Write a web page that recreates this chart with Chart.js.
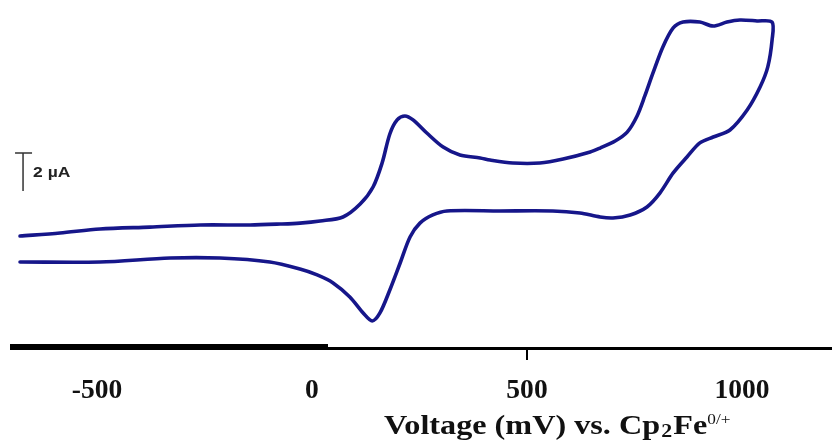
<!DOCTYPE html>
<html>
<head>
<meta charset="utf-8">
<script src="https://cdn.jsdelivr.net/npm/chart.js@4/dist/chart.umd.min.js"></script>
<style>
  html, body { margin: 0; padding: 0; background: #ffffff; }
  #wrap { width: 832px; height: 442px; position: relative; }
</style>
</head>
<body>
<div id="wrap"><canvas id="cv"></canvas></div>
<script>
// Cyclic voltammogram: potential (mV vs. Cp2Fe0/+) and current (µA)
const forwardPotential = [-679, -586, -493, -377, -260, -144, -74, -28, 19, 72, 112, 142, 163, 181, 198, 216, 235, 267, 305, 344, 391, 414, 467, 530, 584, 647, 670, 705, 733, 756, 774, 793, 816, 840, 863, 902, 933, 965, 995, 1035, 1070];
const forwardCurrent   = [0.21, 0.37, 0.58, 0.68, 0.79, 0.79, 0.84, 0.89, 1.00, 1.21, 1.89, 2.79, 4.05, 5.58, 6.32, 6.53, 6.32, 5.63, 4.89, 4.47, 4.32, 4.21, 4.05, 4.05, 4.26, 4.63, 4.84, 5.21, 5.68, 6.53, 7.58, 8.79, 10.16, 11.16, 11.47, 11.47, 11.26, 11.47, 11.58, 11.53, 11.47];
const reversePotential = [1070, 1060, 1042, 1012, 972, 933, 902, 872, 840, 809, 779, 740, 700, 670, 623, 560, 437, 314, 281, 251, 228, 205, 181, 158, 140, 119, 88, 49, 12, -28, -98, -214, -330, -493, -679];
const reverseCurrent   = [10.53, 9.11, 8.05, 6.84, 5.79, 5.42, 5.11, 4.37, 3.53, 2.47, 1.74, 1.32, 1.16, 1.21, 1.42, 1.53, 1.53, 1.53, 1.32, 0.89, 0.16, -1.21, -2.63, -3.84, -4.26, -3.84, -3.00, -2.26, -1.84, -1.53, -1.16, -0.95, -0.95, -1.16, -1.16];
const tickValues = [-500, 0, 500, 1000];
const tickLabels = ['-500', '0', '500', '1000'];
const scaleBarCurrent = 2;          // µA
const scaleBarLabel = '2 \u00B5A';

// Layout of the plotting frame
const W = 832, H = 442;
const pxPerMV = 0.43, zeroX = 312;
const pxPerUA = 19, zeroY = 240;

const points = [];
forwardPotential.forEach((e, k) => points.push({ x: e, y: forwardCurrent[k] }));
reversePotential.forEach((e, k) => points.push({ x: e, y: reverseCurrent[k] }));

const axisDecor = {
  id: 'axisDecor',
  afterDraw(chart) {
    const ctx = chart.ctx;
    const xs = chart.scales.x, ys = chart.scales.y;
    ctx.save();

    // horizontal axis: heavy left part, lighter right part
    ctx.fillStyle = '#000';
    ctx.fillRect(10, 344, 318, 6);
    ctx.fillRect(328, 347, W - 328, 3);

    // single tick mark
    const tx = xs.getPixelForValue(500);
    ctx.fillRect(Math.round(tx) - 1, 350, 2, 10);

    // tick labels
    ctx.fillStyle = '#111';
    ctx.font = 'bold 27px "Liberation Serif", "Times New Roman", serif';
    ctx.textAlign = 'center';
    ctx.textBaseline = 'alphabetic';
    tickValues.forEach((v, k) => {
      const px = xs.getPixelForValue(v);
      ctx.save();
      ctx.translate(px, 398);
      ctx.scale(1.02, 1);
      ctx.fillText(tickLabels[k], 0, 0);
      ctx.restore();
    });

    // axis title with subscript / superscript
    ctx.save();
    ctx.translate(384, 434);
    ctx.scale(1.15, 1);
    ctx.textAlign = 'left';
    let cx = 0;
    ctx.font = 'bold 28px "Liberation Serif", "Times New Roman", serif';
    const part1 = 'Voltage (mV) vs. Cp';
    ctx.fillText(part1, 0, 0);
    cx += ctx.measureText(part1).width + 1;
    ctx.font = 'bold 19px "Liberation Serif", "Times New Roman", serif';
    ctx.fillText('2', cx, 3);
    cx += ctx.measureText('2').width + 1;
    ctx.font = 'bold 28px "Liberation Serif", "Times New Roman", serif';
    ctx.fillText('Fe', cx, 0);
    cx += ctx.measureText('Fe').width;
    ctx.font = '15px "Liberation Serif", "Times New Roman", serif';
    ctx.fillText('0/+', cx, -10);
    ctx.restore();

    // current scale bar
    const bx = xs.getPixelForValue(-672);
    const yTop = ys.getPixelForValue(4.58);
    const yBot = ys.getPixelForValue(4.58 - scaleBarCurrent);
    ctx.strokeStyle = '#333';
    ctx.lineWidth = 1.5;
    ctx.beginPath();
    ctx.moveTo(bx, yTop);
    ctx.lineTo(bx, yBot);
    ctx.moveTo(bx - 8, yTop);
    ctx.lineTo(bx + 9, yTop);
    ctx.stroke();
    ctx.fillStyle = '#222';
    ctx.font = '600 14px "Liberation Sans", Arial, sans-serif';
    ctx.textAlign = 'left';
    ctx.save();
    ctx.translate(bx + 10, 177);
    ctx.scale(1.25, 1);
    ctx.fillText(scaleBarLabel, 0, 0);
    ctx.restore();

    ctx.restore();
  }
};

new Chart(document.getElementById('cv'), {
  type: 'scatter',
  data: {
    datasets: [{
      data: points,
      showLine: true,
      borderColor: '#16168a',
      borderWidth: 3.6,
      pointRadius: 0,
      tension: 0.3,
      fill: false,
      borderJoinStyle: 'round',
      borderCapStyle: 'round'
    }]
  },
  options: {
    responsive: true,
    maintainAspectRatio: false,
    animation: false,
    layout: { padding: 0 },
    plugins: { legend: { display: false }, tooltip: { enabled: false } },
    scales: {
      x: { type: 'linear', display: false, min: -zeroX / pxPerMV, max: (W - zeroX) / pxPerMV },
      y: { type: 'linear', display: false, min: -(H - zeroY) / pxPerUA, max: zeroY / pxPerUA }
    }
  },
  plugins: [axisDecor]
});
</script>
</body>
</html>
